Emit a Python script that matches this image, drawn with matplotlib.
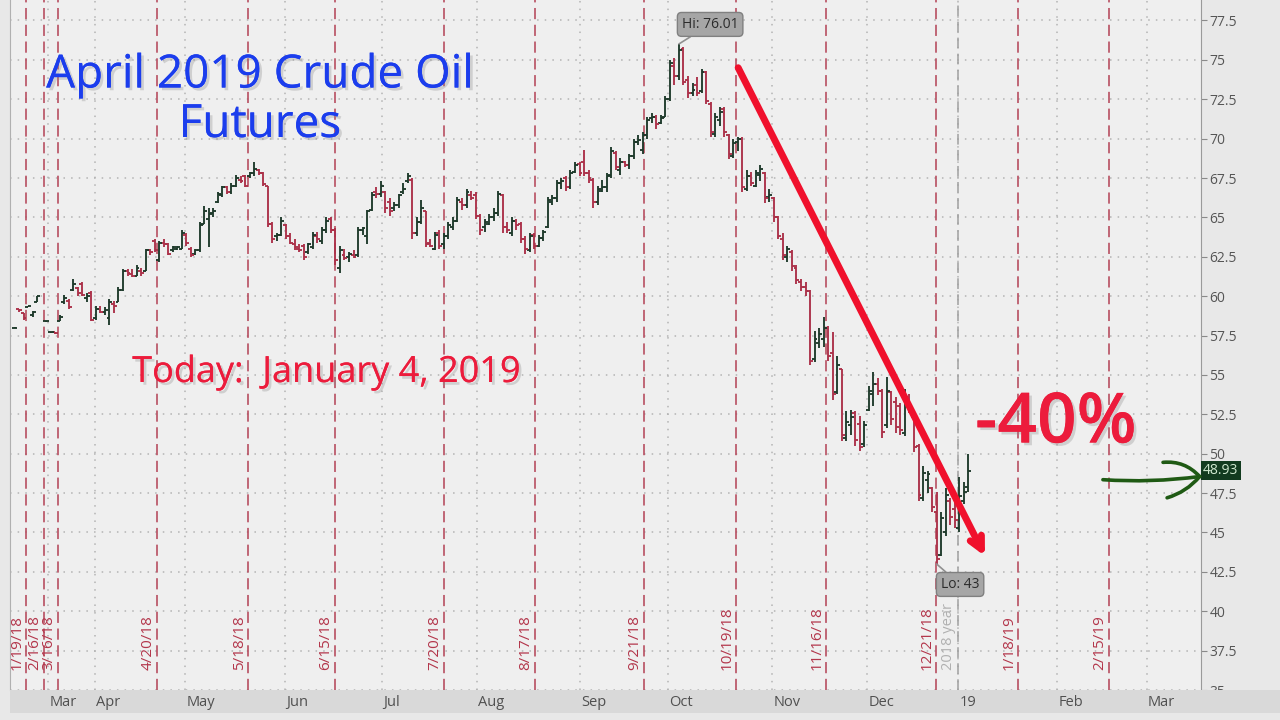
import numpy as np
import matplotlib
matplotlib.use("Agg")
import matplotlib.pyplot as plt
import matplotlib.patheffects as pe
from matplotlib.patches import Rectangle

plt.rcParams['font.family'] = ['Open Sans', 'DejaVu Sans']

# --- data: daily bars of the April 2019 crude contract (session index = trading day) ---
sessions = [1, 2, 3, 4, 5, 6, 8, 9, 10] + list(range(11, 213))

opens = [58.0, 59.2, 58.9, 59.3, 58.8, 59.6, 58.4, 57.7, 57.7,
         58.4, 59.6, 59.7, 60.4, 60.5, 60.8, 59.9, 60.2, 58.6, 59.2,
         59.0, 58.6, 59.5, 59.6, 60.4, 61.6, 61.4, 61.3, 61.6, 61.6,
         62.9, 63.5, 62.3, 63.4, 63.3, 62.9, 63.0, 63.0, 63.9, 63.0,
         62.7, 62.9, 64.6, 64.9, 65.3, 66.0, 66.4, 66.9, 66.6, 67.0,
         67.4, 67.6, 67.6, 67.8, 68.0, 67.8, 67.0, 64.6, 63.8, 63.9,
         64.5, 63.8, 63.3, 63.0, 63.2, 62.8, 63.1, 63.8, 63.5, 64.2,
         64.9, 64.2, 61.8, 62.6, 62.5, 62.6, 62.6, 64.2, 63.8, 65.5,
         66.6, 66.5, 66.6, 66.0, 65.6, 65.8, 66.6, 67.3, 67.4, 64.0,
         64.7, 65.4, 63.4, 63.0, 64.0, 63.3, 63.8, 64.4, 64.8, 66.0,
         65.8, 66.4, 66.4, 65.1, 64.4, 64.6, 65.0, 65.3, 66.4, 64.4,
         64.0, 64.8, 64.6, 63.6, 62.9, 63.9, 63.2, 63.7, 64.4, 66.0,
         66.2, 67.2, 67.5, 66.9, 67.9, 68.4, 68.5, 67.8, 67.4, 66.0,
         66.7, 66.9, 67.7, 69.1, 68.0, 68.5, 68.3, 68.9, 69.8, 69.3,
         70.2, 71.3, 71.4, 71.0, 71.4, 72.5, 74.6, 74.0, 75.7, 73.7,
         72.9, 73.4, 73.0, 74.2, 72.2, 70.3, 71.2, 71.9, 70.2, 68.9,
         69.8, 70.0, 66.8, 67.6, 67.0, 67.7, 67.8, 66.3, 66.2, 65.0,
         63.6, 62.5, 62.8, 61.8, 60.9, 60.6, 60.3, 56.0, 57.0, 57.3,
         58.0, 56.4, 53.9, 55.4, 51.0, 51.8, 52.6, 51.9, 50.6, 52.8,
         53.8, 54.4, 54.0, 51.8, 53.9, 53.3, 53.0, 51.3, 53.5, 52.3,
         50.5, 47.2, 48.3, 47.8, 46.3, 43.6, 45.0, 47.0, 46.5, 45.3,
         47.0, 47.9]

highs = [58.05, 59.2, 58.9, 59.4, 59.05, 60.0, 58.45, 57.75, 57.75,
         58.8, 60.1, 59.8, 61.1, 60.6, 60.9, 60.2, 60.3, 59.4, 59.4,
         59.3, 59.8, 59.7, 60.6, 61.7, 61.7, 61.7, 62.0, 61.8, 63.0,
         63.0, 63.6, 63.5, 63.6, 63.4, 63.2, 63.2, 64.2, 64.0, 63.1,
         63.0, 64.7, 65.7, 65.6, 65.6, 66.6, 67.0, 67.0, 67.2, 67.7,
         67.6, 67.7, 67.9, 68.5, 68.1, 67.9, 67.0, 64.7, 64.0, 65.0,
         64.6, 64.0, 63.6, 63.3, 63.3, 63.4, 64.1, 64.1, 64.4, 65.0,
         65.0, 64.3, 63.2, 63.0, 62.8, 62.9, 64.4, 64.4, 65.5, 66.6,
         66.9, 67.3, 66.7, 66.2, 66.0, 66.5, 67.2, 67.8, 67.5, 65.0,
         66.1, 65.4, 63.6, 64.1, 64.2, 64.0, 64.7, 65.0, 66.3, 66.2,
         66.8, 66.7, 66.6, 65.2, 64.9, 65.2, 65.6, 66.7, 66.5, 64.7,
         65.0, 64.9, 64.7, 63.8, 64.0, 64.0, 63.9, 64.2, 66.3, 66.4,
         67.4, 67.5, 67.6, 68.0, 68.5, 68.5, 69.3, 68.0, 67.5, 67.0,
         67.4, 67.8, 69.5, 69.2, 68.8, 68.6, 69.0, 70.0, 70.2, 70.4,
         71.4, 71.6, 71.5, 71.5, 72.7, 75.0, 75.1, 76.01, 75.8, 74.0,
         73.5, 73.9, 74.4, 74.3, 72.3, 71.6, 72.0, 72.0, 70.3, 70.0,
         70.1, 70.1, 68.0, 67.9, 68.0, 68.3, 67.9, 66.8, 66.3, 65.1,
         64.0, 63.2, 62.9, 62.0, 61.1, 60.9, 60.4, 57.8, 58.0, 58.7,
         58.1, 57.7, 56.2, 55.4, 52.7, 52.8, 52.7, 52.4, 52.1, 54.3,
         55.2, 54.8, 54.1, 54.9, 54.0, 53.6, 53.2, 54.1, 53.8, 52.4,
         50.6, 49.2, 48.9, 47.9, 47.6, 46.3, 47.8, 47.2, 47.0, 48.5,
         48.2, 50.0]

lows = [57.95, 59.0, 58.5, 59.3, 58.7, 59.6, 58.35, 57.65, 57.6,
        58.4, 59.5, 59.2, 60.3, 60.0, 60.0, 59.6, 58.4, 58.5, 58.9,
        58.8, 58.2, 58.9, 59.6, 60.3, 61.3, 61.2, 61.3, 61.3, 61.6,
        62.6, 62.8, 62.2, 63.1, 62.6, 62.8, 62.9, 63.0, 63.2, 62.5,
        62.6, 62.8, 64.6, 63.1, 65.0, 65.9, 66.3, 66.5, 66.5, 66.9,
        67.2, 66.9, 67.5, 67.6, 67.7, 67.0, 64.4, 63.4, 63.5, 63.8,
        63.6, 63.3, 62.9, 62.8, 62.3, 62.7, 63.0, 63.4, 63.3, 64.0,
        64.0, 62.0, 61.5, 62.3, 62.2, 62.4, 62.5, 63.9, 63.3, 65.4,
        66.2, 66.3, 65.3, 65.1, 65.4, 65.6, 66.5, 67.2, 63.6, 63.8,
        64.6, 63.1, 63.1, 62.9, 63.0, 63.0, 63.6, 64.2, 64.7, 65.5,
        65.6, 66.1, 64.9, 63.9, 64.1, 64.5, 64.8, 65.1, 64.0, 64.0,
        63.8, 64.2, 63.4, 62.7, 62.8, 63.0, 63.1, 63.5, 64.3, 65.8,
        66.0, 66.8, 66.7, 66.8, 67.8, 67.6, 67.6, 67.2, 65.6, 65.8,
        66.6, 66.6, 67.5, 68.0, 67.7, 68.2, 68.1, 68.7, 69.6, 69.0,
        70.0, 71.0, 70.6, 70.9, 71.4, 72.4, 73.4, 73.7, 73.4, 72.6,
        72.7, 72.7, 72.9, 72.2, 70.1, 70.1, 70.8, 70.1, 68.7, 68.8,
        69.2, 66.6, 66.7, 67.0, 66.9, 67.3, 65.9, 66.0, 64.7, 63.6,
        62.3, 62.2, 61.6, 60.8, 60.3, 60.0, 55.6, 55.8, 56.7, 56.8,
        55.9, 53.4, 53.8, 50.8, 50.8, 51.2, 50.5, 50.2, 50.4, 52.7,
        53.0, 53.7, 51.0, 51.6, 51.8, 51.3, 51.2, 51.1, 52.6, 50.1,
        47.0, 47.0, 47.5, 46.3, 43.0, 43.5, 44.8, 45.5, 45.3, 45.0,
        46.8, 47.6]

closes = [58.0, 59.1, 58.6, 59.4, 59.0, 60.0, 58.4, 57.7, 57.65,
          58.7, 59.9, 59.3, 60.8, 60.2, 60.1, 60.0, 58.5, 59.2, 59.0,
          59.1, 59.6, 59.4, 60.4, 61.6, 61.5, 61.3, 61.8, 61.5, 62.9,
          62.8, 62.9, 63.4, 63.3, 62.7, 63.1, 63.1, 64.0, 63.4, 62.6,
          62.9, 64.5, 65.4, 65.2, 65.4, 66.5, 66.9, 66.6, 67.0, 67.5,
          67.3, 67.0, 67.8, 68.1, 67.8, 67.1, 64.6, 63.6, 63.9, 64.8,
          63.8, 63.4, 63.1, 62.9, 62.5, 63.3, 63.9, 63.6, 64.2, 64.8,
          64.2, 62.3, 62.9, 62.4, 62.7, 62.5, 64.2, 64.3, 65.4, 66.4,
          66.5, 67.0, 65.6, 65.4, 65.8, 66.4, 66.8, 67.6, 64.0, 64.7,
          65.6, 63.3, 63.2, 63.9, 63.2, 63.8, 64.5, 64.8, 66.1, 65.8,
          66.6, 66.2, 65.1, 64.2, 64.7, 65.0, 65.3, 66.5, 64.4, 64.2,
          64.8, 64.5, 63.6, 63.0, 63.8, 63.2, 63.7, 64.1, 66.1, 66.2,
          67.2, 67.3, 66.9, 67.8, 68.3, 67.8, 67.8, 67.5, 66.0, 66.8,
          66.9, 67.6, 69.2, 68.2, 68.5, 68.3, 68.9, 69.8, 69.9, 70.2,
          71.2, 71.4, 70.9, 71.3, 72.5, 74.8, 74.0, 75.6, 73.6, 72.9,
          73.1, 72.9, 74.2, 72.4, 70.4, 71.4, 71.7, 70.4, 69.0, 69.7,
          70.0, 66.9, 67.6, 67.2, 67.8, 68.1, 66.2, 66.4, 65.0, 63.8,
          62.6, 63.0, 61.9, 61.0, 60.6, 60.3, 55.9, 57.3, 57.6, 58.0,
          56.2, 53.8, 55.6, 51.2, 52.0, 52.3, 50.9, 50.4, 51.8, 54.0,
          54.4, 54.0, 51.4, 54.0, 52.2, 51.7, 51.5, 53.4, 52.9, 50.4,
          47.4, 48.8, 48.7, 46.6, 43.3, 45.9, 47.4, 46.0, 45.8, 47.3,
          47.6, 48.93]

# month ticks along the session axis
month_pos = [8.4, 18.8, 38.7, 60.8, 82.3, 103.3, 126.1, 145.6, 168.6, 189.6, 209.7, 231.6, 251.5]
month_labels = ["Mar", "Apr", "May", "Jun", "Jul", "Aug", "Sep", "Oct", "Nov", "Dec", "19", "Feb", "Mar"]

# expiration markers
expiry_pos = [3.5, 7.5, 10.6, 32.5, 52.7, 71.9, 96.0, 116.2, 140.3, 160.6, 180.5, 204.9, 223.0, 243.1]
expiry_labels = ["1/19/18", "2/16/18", "3/16/18", "4/20/18", "5/18/18", "6/15/18", "7/20/18",
                 "8/17/18", "9/21/18", "10/19/18", "11/16/18", "12/21/18", "1/18/19", "2/15/19"]
year_pos = 209.7

price_ticks = [35, 37.5, 40, 42.5, 45, 47.5, 50, 52.5, 55, 57.5, 60, 62.5, 65, 67.5, 70, 72.5, 75, 77.5]

UP = '#1f3a2b'
DOWN = '#ab3149'
RED = '#ec1c3c'

fig = plt.figure(figsize=(12.8, 7.2), dpi=100)
fig.patch.set_facecolor('#e8e8e8')
ax = fig.add_axes([10/1280, 30/720, 1191/1280, 690/720])
ax.set_facecolor('#efefef')
ax.set_xlim(0, 263.5)
ax.set_ylim(35.13, 78.8)

# OHLC bars
x = np.array(sessions, float)
o = np.array(opens)
h = np.array(highs)
l = np.array(lows)
c = np.array(closes)
col = np.where(c >= o, UP, DOWN)
ax.vlines(x, l, h, colors=col, lw=1.35, zorder=4)
ax.hlines(o, x - 0.65, x, colors=col, lw=1.35, zorder=4)
ax.hlines(c, x, x + 0.65, colors=col, lw=1.35, zorder=4)

# axes, ticks, grid
ax.yaxis.tick_right()
ax.set_yticks(price_ticks)
ax.set_yticklabels(["%g" % t for t in price_ticks])
ax.tick_params(axis='y', length=4, color='#8a8a8a', labelcolor='#555555', labelsize=10, pad=2)
ax.set_xticks(month_pos)
ax.set_xticklabels([])
ax.tick_params(axis='x', length=0)
ax.grid(True, color='#b3b3b3', linestyle=(0, (1, 4)), lw=1.1, zorder=1)
for s in ['top', 'bottom']:
    ax.spines[s].set_visible(False)
ax.spines['left'].set_color('#b0b0b0')
ax.spines['right'].set_color('#9a9a9a')

for pos, lab in zip(expiry_pos, expiry_labels):
    ax.axvline(pos, color='#b5475a', lw=1.15, linestyle=(0, (7, 3.5)), zorder=2)
    ax.text(pos - 0.35, 36.25, lab, rotation=90, ha='right', va='bottom',
            color='#b3364b', fontsize=11, zorder=3)
ax.axvline(year_pos, color='#a0a0a0', lw=1.1, linestyle=(0, (7, 3.5)), zorder=2)
ax.text(year_pos - 0.5, 36.25, "2018 year", rotation=90, ha='right', va='bottom',
        color='#b0b0b0', fontsize=10.5, zorder=3)

# bottom month band
fig.patches.append(Rectangle((10/1280, 7/720), 1270/1280, 23/720, transform=fig.transFigure,
                             facecolor='#d9d9d9', edgecolor='none', zorder=1))
axb = fig.add_axes([10/1280, 7/720, 1191/1280, 23/720])
axb.set_zorder(2)
axb.patch.set_visible(False)
axb.set_xlim(ax.get_xlim())
axb.set_ylim(0, 1)
axb.axis('off')
for pos, lab in zip(month_pos, month_labels):
    axb.text(pos + 0.3, 0.45, lab, ha='left', va='center', color='#505050', fontsize=10.5)

# hi / lo callouts
box = dict(boxstyle='round,pad=0.32,rounding_size=0.3', facecolor='#a6a6a6', edgecolor='#808080', lw=1)
ax.annotate("Hi: 76.01", xy=(148, 76.01), xytext=(154.9, 77.25), ha='center', va='center',
            fontsize=10, color='#2b2b2b', bbox=box,
            arrowprops=dict(arrowstyle='-', color='#909090', lw=1.2, shrinkA=0, shrinkB=0), zorder=6)
ax.annotate("Lo: 43", xy=(205, 43.0), xytext=(210.2, 41.7), ha='center', va='center',
            fontsize=10, color='#2b2b2b', bbox=box,
            arrowprops=dict(arrowstyle='-', color='#909090', lw=1.2, shrinkA=0, shrinkB=0), zorder=6)

# last price marker
ax.text(1.0018, 48.93, "48.93", transform=ax.get_yaxis_transform(), ha='left', va='center',
        fontsize=10, color='#cfe8cf', clip_on=False, zorder=7,
        bbox=dict(boxstyle='square,pad=0.15', facecolor='#123b1f', edgecolor='none'))

# titles
shadow = [pe.withSimplePatchShadow(offset=(2, -2), shadow_rgbFace='#888888', alpha=0.3), pe.Normal()]
fig.text(260/1280, 1 - 100/720, "April 2019 Crude Oil\nFutures", ha='center', va='center',
         color='#1b3ded', fontsize=33, fontweight='medium', linespacing=1.1, path_effects=shadow)
fig.text(327/1280, 1 - 373/720, "Today:  January 4, 2019", ha='center', va='center',
         color=RED, fontsize=26, fontweight='medium', path_effects=shadow)
fig.text(1056/1280, 1 - 425/720, "-40%", ha='center', va='center',
         color=RED, fontsize=50, fontweight='semibold', path_effects=shadow)

# red trend arrow
ax.annotate("", xy=(215.7, 43.5), xytext=(161.1, 74.5),
            arrowprops=dict(arrowstyle='->,head_length=0.9,head_width=0.45', lw=5, color='#f0102c',
                            shrinkA=0, shrinkB=0),
            zorder=8)

# green hand-drawn arrow to the last price
g = '#1f5a14'
ax.annotate("", xy=(263.2, 48.55), xytext=(241.8, 48.35),
            arrowprops=dict(arrowstyle='-', lw=2.6, color=g, connectionstyle='arc3,rad=0.05',
                            shrinkA=0, shrinkB=0), annotation_clip=False, zorder=8)
ax.annotate("", xy=(263.2, 48.55), xytext=(255.1, 49.45),
            arrowprops=dict(arrowstyle='-', lw=2.6, color=g, connectionstyle='arc3,rad=-0.25',
                            shrinkA=0, shrinkB=0), annotation_clip=False, zorder=8)
ax.annotate("", xy=(263.2, 48.55), xytext=(256.0, 47.2),
            arrowprops=dict(arrowstyle='-', lw=2.6, color=g, connectionstyle='arc3,rad=0.15',
                            shrinkA=0, shrinkB=0), annotation_clip=False, zorder=8)

fig.savefig("out.png", dpi=100, facecolor=fig.get_facecolor())
